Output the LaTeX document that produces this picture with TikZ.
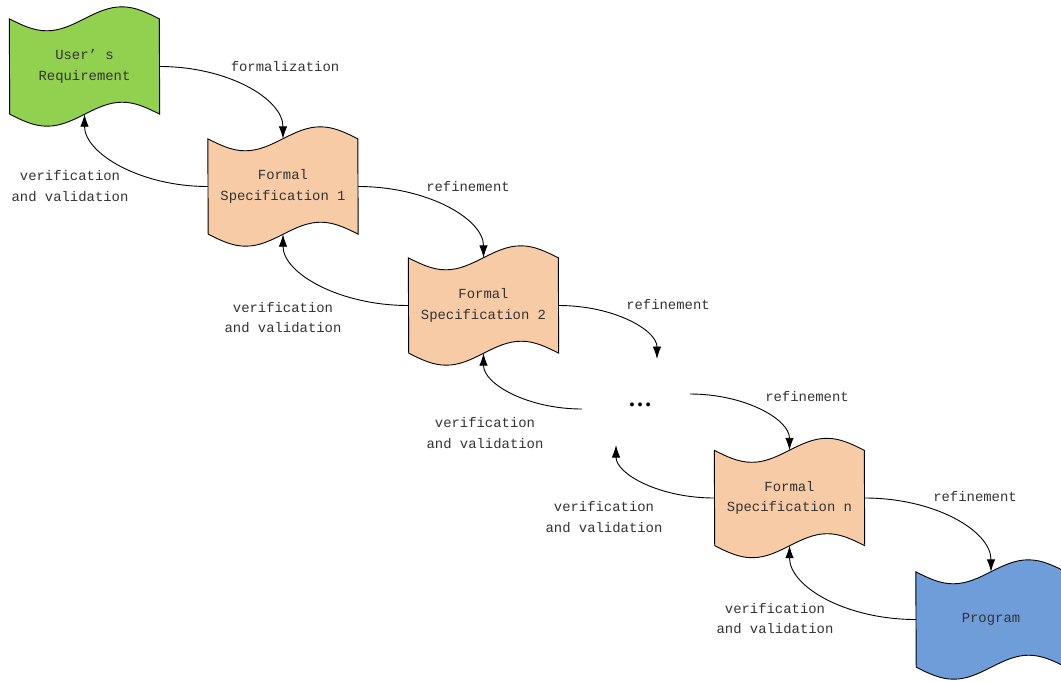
\documentclass[tikz,border=0pt]{standalone}
\usepackage{fontspec}
\setmainfont{Liberation Mono}
\newfontfamily\dotsfont{Liberation Serif}
\usetikzlibrary{arrows.meta,backgrounds}

\definecolor{reqgreen}{HTML}{92D050}
\definecolor{specpeach}{HTML}{F8CBA7}
\definecolor{progblue}{HTML}{6F9DD9}
\definecolor{txtgray}{HTML}{333333}

\tikzset{
  doc/.style={minimum width=150pt, minimum height=95pt, inner sep=0pt,
    align=center, text=txtgray, font=\fontsize{13.9}{20.5}\selectfont},
  lbl/.style={align=center, text=txtgray, inner sep=0pt,
    font=\fontsize{13.9}{20.5}\selectfont},
  flow/.style={draw=black, line width=0.9pt, -{Latex[length=12.5pt,width=8.5pt]}},
  tapeline/.style={draw=black, line width=0.9pt}
}

% wavy "tape" outline around a named node (one full sine period on top and bottom)
\newcommand\tapeshape[2]{%
  \path[tapeline, fill=#2]
    (#1.north west) sin ++(37.5,12) cos ++(37.5,-12) sin ++(37.5,-12) cos ++(37.5,12)
    -- (#1.south east) sin ++(-37.5,-12) cos ++(-37.5,12) sin ++(-37.5,12) cos ++(-37.5,-12)
    -- cycle;}

\begin{document}
\begin{tikzpicture}[x=1pt,y=-1pt]
  \useasboundingbox (0,0) rectangle (1061,681);

  % documents
  \node[doc] (req)   at (84.5,66.5)  {User’ s\\Requirement};
  \node[doc] (spec1) at (283,186.5)  {Formal\\Specification 1};
  \node[doc] (spec2) at (483.5,305.5){Formal\\Specification 2};
  \node[doc] (specn) at (789.5,498)  {Formal\\Specification n};
  \node[doc] (prog)  at (991,619.5)  {Program};
  \node[inner sep=0pt, font=\dotsfont\bfseries\fontsize{24}{24}\selectfont] (dots) at (640,405) {…};

  \begin{scope}[on background layer]
    \tapeshape{req}{reqgreen}
    \tapeshape{spec1}{specpeach}
    \tapeshape{spec2}{specpeach}
    \tapeshape{specn}{specpeach}
    \tapeshape{prog}{progblue}
  \end{scope}

  % free ends around the ellipsis
  \coordinate (dotsIn)    at (657,359);
  \coordinate (dotsOutL)  at (582,409);
  \coordinate (dotsOutR)  at (690,394);
  \coordinate (dotsBack)  at (616,445);

  % forward arrows
  \draw[flow] (req.east)   .. controls +(68,0) and +(0,-40) .. (spec1.north);
  \draw[flow] (spec1.east) .. controls +(69,0) and +(0,-39) .. (spec2.north);
  \draw[flow] (spec2.east) .. controls +(55,0) and +(0,-29) .. (dotsIn);
  \draw[flow] (dotsOutR)   .. controls +(55,0) and +(0,-31) .. (specn.north);
  \draw[flow] (specn.east) .. controls +(70,0) and +(0,-41) .. (prog.north);

  % backward arrows
  \draw[flow] (spec1.west) .. controls +(-68,0) and +(0,39) .. (req.south);
  \draw[flow] (spec2.west) .. controls +(-69,0) and +(0,39) .. (spec1.south);
  \draw[flow] (dotsOutL)   .. controls +(-54,0) and +(0,31) .. (spec2.south);
  \draw[flow] (specn.west) .. controls +(-55,0) and +(0,29) .. (dotsBack);
  \draw[flow] (prog.west)  .. controls +(-70,0) and +(0,41) .. (specn.south);

  % labels
  \node[lbl] (lf)  at (285,67)    {formalization};
  \node[lbl] (lr1) at (468,187)   {refinement};
  \node[lbl] (lr2) at (668,305)   {refinement};
  \node[lbl] (lr3) at (807,397)   {refinement};
  \node[lbl] (lr4) at (975,497)   {refinement};
  \node[lbl] (lv1) at (70,186)    {verification\\and validation};
  \node[lbl] (lv2) at (283,317.5) {verification\\and validation};
  \node[lbl] (lv3) at (485,433)   {verification\\and validation};
  \node[lbl] (lv4) at (604,517)   {verification\\and validation};
  \node[lbl] (lv5) at (775,618.5) {verification\\and validation};
\end{tikzpicture}
\end{document}
